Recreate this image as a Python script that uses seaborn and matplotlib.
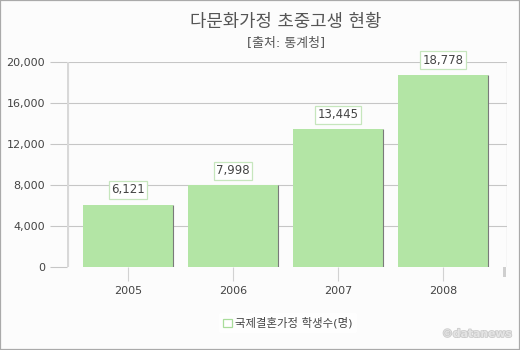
import matplotlib
matplotlib.use("Agg")
import matplotlib.pyplot as plt
import matplotlib.patches as mpatches
import matplotlib.patheffects as pe
import seaborn as sns
import pandas as pd

# Data
years = ["2005", "2006", "2007", "2008"]
students = [6121, 7998, 13445, 18778]
yticks = [0, 4000, 8000, 12000, 16000, 20000]

title = "다문화가정 초중고생 현황"
subtitle = "[출처: 통계청]"
series_name = "국제결혼가정 학생수(명)"

sns.set_theme(style="white")
plt.rcParams["font.family"] = ["DejaVu Sans", "Noto Sans CJK KR"]

W, H = 520, 350
fig = plt.figure(figsize=(W / 100, H / 100), dpi=100, facecolor="#fcfcfc")

# plot area in pixel terms
left_px, right_px, top_px, bot_px = 67, 506.7, 62.3, 267.3
ax = fig.add_axes([left_px / W, 1 - bot_px / H,
                   (right_px - left_px) / W, (bot_px - top_px) / H])
ax.set_facecolor("#fcfcfc")

bar_color = "#b3e5a5"
df = pd.DataFrame({"year": years, "students": students})
sns.barplot(data=df, x="year", y="students", order=years, color=bar_color,
            width=0.85, saturation=1, edgecolor="none", ax=ax, zorder=2)

ax.set_xlim(-0.581, 3.607)
ax.set_ylim(0, 20000)
ax.set_xlabel("")
ax.set_ylabel("")

for s in ax.spines.values():
    s.set_visible(False)

# horizontal grid
ax.set_yticks(yticks)
ax.set_yticklabels([f"{t:,}" for t in yticks])
ax.yaxis.grid(True, color="#c6c6c6", linewidth=0.8)
ax.get_ygridlines()[0].set_visible(False)
ax.set_axisbelow(True)

ax.tick_params(axis="y", which="major", left=True, length=12.2, width=0.8,
               color="#c6c6c6", pad=3.6, labelsize=8, labelcolor="#444444")
ax.tick_params(axis="x", which="major", bottom=True, length=10, width=0.8,
               color="#d2d2d2", pad=3.5, labelsize=8, labelcolor="#444444")

# left thick rail and right thin border
ax.axvline(ax.get_xlim()[0], color="#d8d8d8", linewidth=3, zorder=3)
ax.axvline(ax.get_xlim()[1], color="#cccccc", linewidth=0.9, zorder=3)

# shaded right edge of each bar and value boxes
for p, v in zip(ax.patches, students):
    xr = p.get_x() + p.get_width()
    ax.plot([xr, xr], [0, p.get_height()], color="#7a7a7a", linewidth=0.8,
            zorder=3, solid_capstyle="butt")
    ax.annotate(f"{v:,}", xy=(p.get_x() + p.get_width() / 2, v),
                xytext=(0, 10.5), textcoords="offset points",
                ha="center", va="center", fontsize=8.5, color="#444444",
                bbox=dict(boxstyle="square,pad=0.2", fc="white",
                          ec="#c6e6bd", lw=0.9),
                zorder=5)

# titles
fig.text(286 / W, 1 - 22 / H, title, ha="center", va="center",
         fontsize=12.8, color="#555555")
fig.text(286 / W, 1 - 44 / H, subtitle, ha="center", va="center",
         fontsize=9.3, color="#555555")

# legend
handle = mpatches.Patch(facecolor="white", edgecolor="#a9dd9b", linewidth=0.9)
leg = fig.legend([handle], [series_name], loc="center",
                 bbox_to_anchor=(288 / W, 1 - 323 / H), frameon=True,
                 fontsize=8.2, handlelength=0.75, handleheight=0.75,
                 handletextpad=0.3, borderpad=0.4)
leg.get_frame().set_facecolor("white")
leg.get_frame().set_edgecolor("none")
for t in leg.get_texts():
    t.set_color("#444444")

# watermark
fig.text(477 / W, 1 - 334 / H, "©datanews", ha="center", va="center",
         fontsize=7.8, fontweight="bold", color="#e4e4e4",
         path_effects=[pe.withStroke(linewidth=1.2, foreground="#cbcbcb")])

# small scroll marker and outer frame
fig.patches.append(mpatches.Rectangle((503 / W, 1 - 277 / H), 3 / W, 10 / H,
                                      transform=fig.transFigure,
                                      facecolor="#cfcfcf", edgecolor="none"))
fig.patches.append(mpatches.Rectangle((0, 0), 1, 1, transform=fig.transFigure,
                                      fill=False, edgecolor="#aaaaaa",
                                      linewidth=1.6))

fig.savefig("out.png", dpi=100, facecolor=fig.get_facecolor())
